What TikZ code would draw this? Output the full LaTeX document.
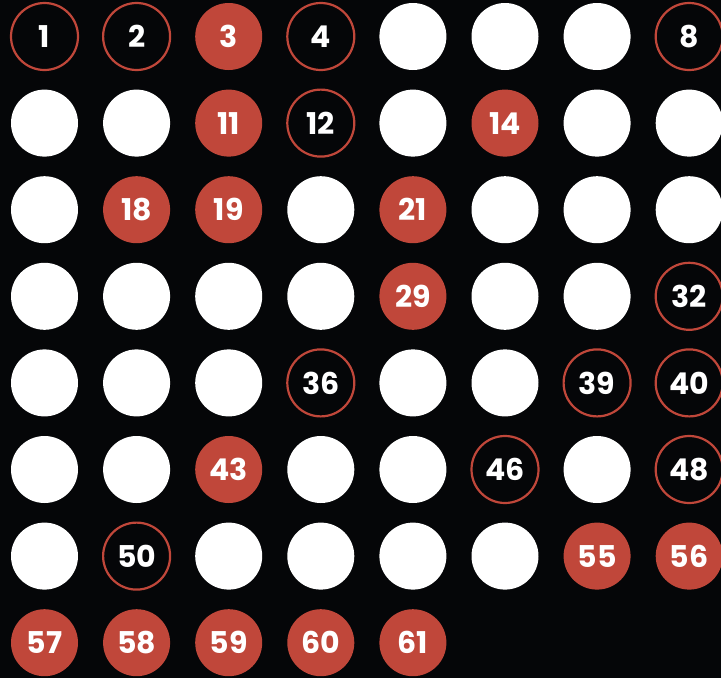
\documentclass[tikz,border=0pt]{standalone}
\usepackage{fontspec}
\setmainfont{Poppins}[BoldFont={* Bold}]
\definecolor{bg}{HTML}{050608}
\definecolor{rd}{HTML}{C0473A}
\def\wbname{w}
\begin{document}
\begin{tikzpicture}[x=1pt,y=-1pt,
  ball/.style={circle,minimum size=67pt,inner sep=0pt,font=\fontsize{30}{30}\selectfont\bfseries,text=white},
  ring/.style={ball,draw=rd,line width=2.2pt,fill=bg},
  redball/.style={ball,fill=rd},
  whiteball/.style={ball,fill=white}]
\fill[bg] (0,0) rectangle (721,678);
\useasboundingbox (0,0) rectangle (721,678);
\foreach \n/\t in {1/o,2/o,3/r,4/o,5/w,6/w,7/w,8/o,
  9/w,10/w,11/r,12/o,13/w,14/r,15/w,16/w,
  17/w,18/r,19/r,20/w,21/r,22/w,23/w,24/w,
  25/w,26/w,27/w,28/w,29/r,30/w,31/w,32/o,
  33/w,34/w,35/w,36/o,37/w,38/w,39/o,40/o,
  41/w,42/w,43/r,44/w,45/w,46/o,47/w,48/o,
  49/w,50/o,51/w,52/w,53/w,54/w,55/r,56/r,
  57/r,58/r,59/r,60/r,61/r}{
  \pgfmathtruncatemacro{\col}{mod(\n-1,8)}
  \pgfmathtruncatemacro{\row}{int((\n-1)/8)}
  \if\t w\def\st{whiteball}\def\lb{}\else
    \if\t r\def\st{redball}\else\def\st{ring}\fi\def\lb{\n}\fi
  \node[\st] (c\n) at ({44.5+92.1*\col},{36.5+86.6*\row}) {\lb};
}
\end{tikzpicture}
\end{document}
